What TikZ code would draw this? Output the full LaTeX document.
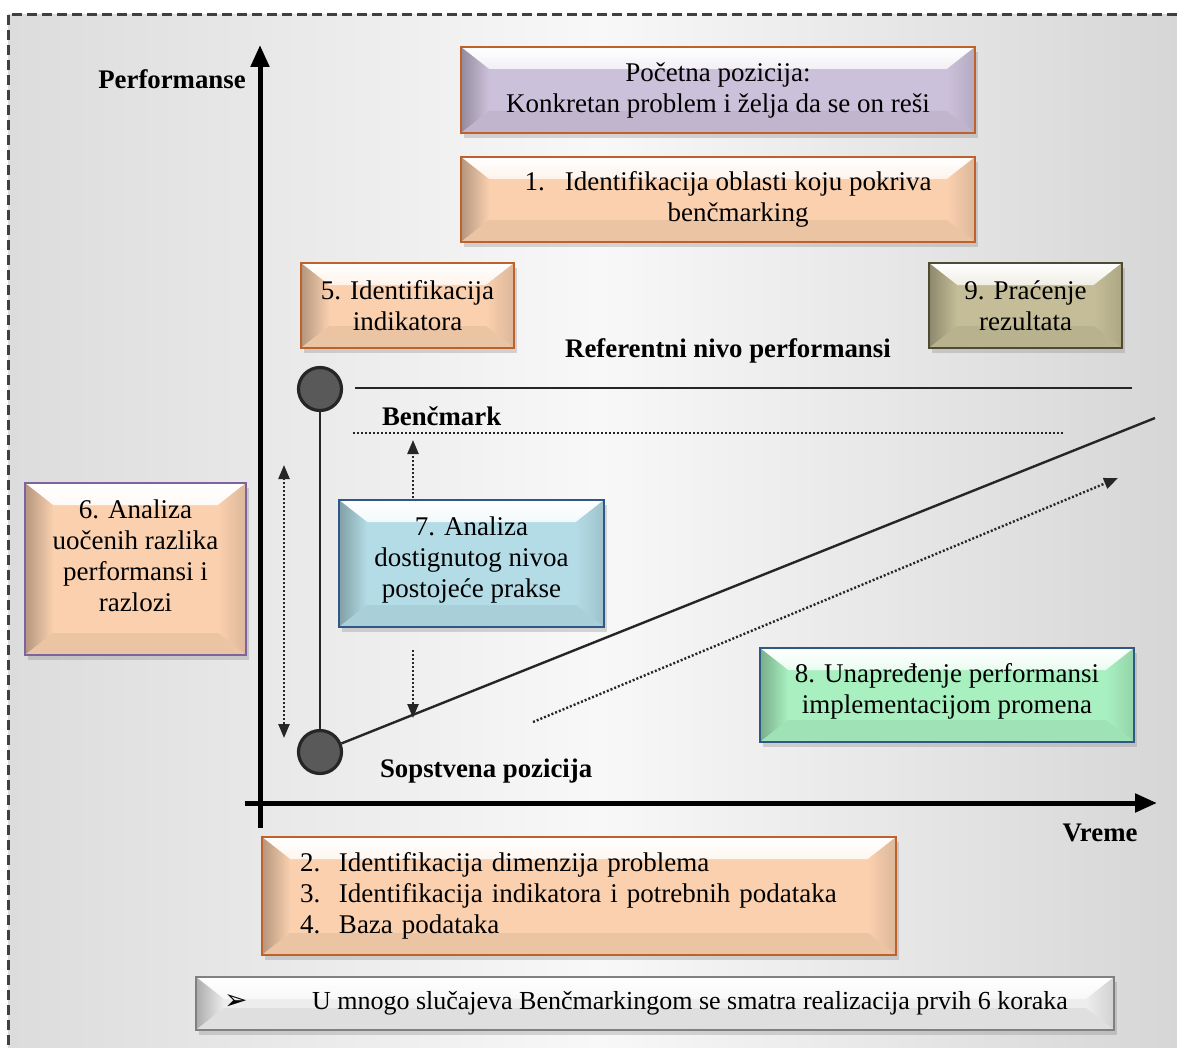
\documentclass[tikz,border=0pt]{standalone}
\usepackage{fontspec}
\setmainfont{Liberation Serif}
\newfontfamily\symfont{DejaVu Sans}
\usetikzlibrary{arrows.meta,shadows}

\definecolor{bgside}{HTML}{DCDCDC}
\definecolor{bgmid}{HTML}{F8F8F8}
\definecolor{lavender}{HTML}{CCC1DA}
\definecolor{peach}{HTML}{FAD0AF}
\definecolor{khaki}{HTML}{C4BD97}
\definecolor{skyblue}{HTML}{B4DCE6}
\definecolor{mint}{HTML}{A8F0C0}
\definecolor{notegrey}{HTML}{EDEDED}
\definecolor{rust}{HTML}{C0602B}
\definecolor{plum}{HTML}{7E649E}
\definecolor{navy}{HTML}{2F5887}
\definecolor{darkkhaki}{HTML}{4F4B33}
\definecolor{dotgrey}{HTML}{595959}
\definecolor{linegrey}{HTML}{262626}

\begin{document}
\begin{tikzpicture}[x=0.5pt, y=-0.5pt,
    >={Triangle[length=7pt, width=5.5pt]},
    every node/.style={font=\fontsize{13.5pt}{15.5pt}\selectfont},
    lbl/.style={font=\fontsize{13.4pt}{15.5pt}\selectfont\bfseries},
    cardbox/.style 2 args={fill=#1, draw=#2, line width=1.2pt, align=center, inner sep=0pt,
        drop shadow={shadow xshift=1.5pt, shadow yshift=-2.5pt, opacity=.3},
        path picture={
            % top facet
            \shade[top color=white, bottom color=#1]
                (path picture bounding box.north west) -- (path picture bounding box.north east)
                -- ([shift={(-14pt,-11pt)}]path picture bounding box.north east)
                -- ([shift={(14pt,-11pt)}]path picture bounding box.north west) -- cycle;
            % left facet
            \shade[left color=#1!72!black, right color=#1]
                (path picture bounding box.north west)
                -- ([shift={(14pt,-11pt)}]path picture bounding box.north west)
                -- ([shift={(14pt,11pt)}]path picture bounding box.south west)
                -- (path picture bounding box.south west) -- cycle;
            % right facet
            \shade[left color=#1, right color=#1!88!black]
                (path picture bounding box.north east)
                -- ([shift={(-14pt,-11pt)}]path picture bounding box.north east)
                -- ([shift={(-14pt,11pt)}]path picture bounding box.south east)
                -- (path picture bounding box.south east) -- cycle;
            % bottom facet
            \fill[#1!94!black]
                (path picture bounding box.south west)
                -- ([shift={(14pt,11pt)}]path picture bounding box.south west)
                -- ([shift={(-14pt,11pt)}]path picture bounding box.south east)
                -- (path picture bounding box.south east) -- cycle;
        }},
    dot/.style={circle, fill=dotgrey, draw=linegrey, line width=1.6pt, minimum size=21.5pt, inner sep=0pt},
    axis/.style={line width=2.5pt, -{Triangle[length=11pt, width=9pt]}},
    dotarrow/.style={line width=1.2pt, dash pattern=on 1pt off 1pt, color=linegrey}
]
    \useasboundingbox (0,0) rectangle (1177,1048);

    % background and dashed frame
    \shade[left color=bgside, right color=bgside!97!black, middle color=bgmid] (8,15) rectangle (1190,1060);
    \draw[black!75, line width=1.5pt, dash pattern=on 5pt off 2.5pt] (8,15) rectangle (1190,1060);

    % draw axes
    \coordinate (xstart) at (245,803);
    \coordinate (xend) at (1157,803);
    \coordinate (ystart) at (260,828);
    \coordinate (yend) at (260,45);
    \draw[axis] (xstart) -- (xend);
    \draw[axis] (ystart) -- (yend);
    \node[lbl] (perf) at (172,79) {Performanse};
    \node[lbl] (time) at (1100,833) {Vreme};

    % boxes of the steps
    \node[cardbox={lavender}{rust}, minimum width=257pt, minimum height=43pt] (start) at (718,90)
        {Početna pozicija:\\Konkretan problem i želja da se on reši};
    \node[cardbox={peach}{rust}, minimum width=257pt, minimum height=42.5pt] (step1) at (718,199.5)
        {\hspace*{10pt}1.\hspace{10pt}Identifikacija oblasti koju pokriva\\\hspace*{20pt}benčmarking};
    \node[cardbox={peach}{rust}, minimum width=106.5pt, minimum height=42.5pt] (step5) at (407.5,305.5)
        {5. Identifikacija\\indikatora};
    \node[cardbox={khaki}{darkkhaki}, minimum width=96.5pt, minimum height=42.5pt] (step9) at (1025.5,305.5)
        {9. Praćenje\\rezultata};
    \node[cardbox={peach}{plum}, minimum width=110.5pt, minimum height=86pt] (step6) at (135.5,569)
        {6. Analiza\\uočenih razlika\\performansi i\\razlozi\\[-2pt]\mbox{}};
    \node[cardbox={skyblue}{navy}, minimum width=132.5pt, minimum height=63.5pt] (step7) at (471.5,563.5)
        {7. Analiza\\dostignutog nivoa\\postojeće prakse\\[-9.5pt]\mbox{}};
    \node[cardbox={mint}{navy}, minimum width=187pt, minimum height=47pt] (step8) at (947,695)
        {8. Unapređenje performansi\\implementacijom promena\\[-9pt]\mbox{}};
    \node[cardbox={peach}{rust}, minimum width=317pt, minimum height=59pt, align=left,
        text width=279pt, inner xsep=19pt] (steps2to4) at (579,896)
        {\makebox[19.5pt][l]{2.}Identifikacija dimenzija problema\\
         \makebox[19.5pt][l]{3.}Identifikacija indikatora i potrebnih podataka\\
         \makebox[19.5pt][l]{4.}Baza podataka};
    \node[cardbox={notegrey}{black!50}, minimum width=459pt, minimum height=26.5pt] (note) at (655,1003.5)
        {\makebox[457pt][l]{\hspace*{13pt}\makebox[44pt][l]{\symfont\fontsize{14pt}{15pt}\selectfont ➢}%
         \fontsize{13pt}{15pt}\selectfont U mnogo slučajeva Benčmarkingom se smatra realizacija prvih 6 koraka}};

    % reference level and own position
    \node[lbl] (reflabel) at (728,351) {Referentni nivo performansi};
    \node[lbl, anchor=west] (benchlabel) at (375,416) {Benčmark};
    \node[lbl, anchor=west] (ownlabel) at (373,771) {Sopstvena pozicija};
    \node[dot] (top) at (320,389) {};
    \node[dot] (own) at (320,752) {};
    \coordinate (refstart) at (355,388);
    \coordinate (refend) at (1132,388);
    \coordinate (benchstart) at (353,433);
    \coordinate (benchend) at (1063,433);
    \coordinate (trendend) at (1155,418);
    \draw[linegrey, line width=1pt] (top) -- (own);
    \draw[linegrey, line width=1.2pt] (refstart) -- (refend);
    \draw[linegrey, line width=1.2pt] (own) -- (trendend);
    \draw[dotarrow] (benchstart) -- (benchend);

    % dotted arrows
    \coordinate (gaptop) at (284,465);
    \coordinate (gapbottom) at (284,738);
    \coordinate (upstart) at (413,498);
    \coordinate (upend) at (413,440);
    \coordinate (downstart) at (413,650);
    \coordinate (downend) at (413,718);
    \coordinate (improvestart) at (533,722);
    \coordinate (improveend) at (1118,478);
    \draw[dotarrow, <->] (gaptop) -- (gapbottom);
    \draw[dotarrow, ->] (upstart) -- (upend);
    \draw[dotarrow, ->] (downstart) -- (downend);
    \draw[dotarrow, ->] (improvestart) -- (improveend);
\end{tikzpicture}
\end{document}
